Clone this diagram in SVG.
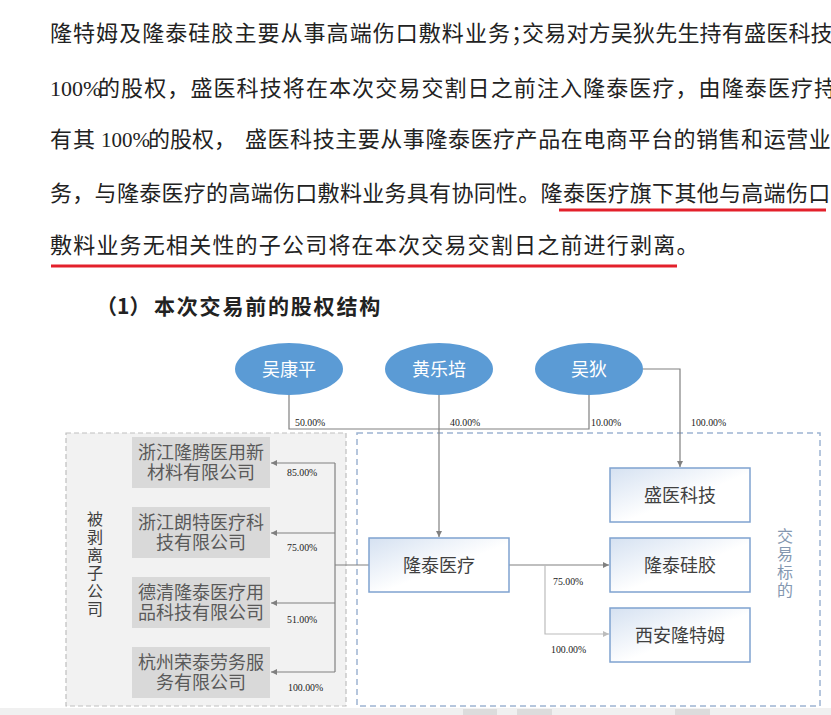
<svg xmlns="http://www.w3.org/2000/svg" width="831" height="715" viewBox="0 0 831 715">
  <defs>
    <style>
      .body { font-family: "Noto Sans CJK SC", "Noto Sans", sans-serif; font-size: 22px; fill: #222; }
      .head { font-family: "Noto Sans CJK SC", "Noto Sans", sans-serif; font-size: 21px; font-weight: bold; fill: #222; }
      .ul { stroke: #e3202b; stroke-width: 2.8; fill: none; }
      .person { fill: #5b9bd5; }
      .ptxt { font-family: "Noto Sans CJK SC", sans-serif; font-size: 18px; fill: #ffffff; text-anchor: middle; }
      .sub { fill: #d9d9d9; }
      .subtxt { font-family: "Noto Sans CJK SC", sans-serif; font-size: 18px; fill: #595959; text-anchor: middle; }
      .co { fill: url(#boxgrad); stroke: #7fa2d0; stroke-width: 1.5; }
      .cotxt { font-family: "Noto Sans CJK SC", sans-serif; font-size: 18px; fill: #404040; text-anchor: middle; }
      .pct { font-family: "Liberation Serif", "Times New Roman", serif; font-size: 9.8px; fill: #1a1a1a; }
      .vlab { font-family: "Noto Sans CJK SC", sans-serif; font-size: 16px; writing-mode: tb; letter-spacing: 2px; }
      .ln { stroke: #808080; stroke-width: 1.2; fill: none; }
      .ln2 { stroke: #bcbcbc; stroke-width: 1.2; fill: none; }
    </style>
    <linearGradient id="boxgrad" x1="0" y1="0" x2="1" y2="1">
      <stop offset="0" stop-color="#d5e1f1"/>
      <stop offset="0.55" stop-color="#ffffff"/>
      <stop offset="1" stop-color="#ffffff"/>
    </linearGradient>
    <marker id="arr" viewBox="0 0 10 10" refX="10" refY="5" markerWidth="6" markerHeight="6" orient="auto" markerUnits="userSpaceOnUse">
      <path d="M0,0 L10,5 L0,10 z" fill="#808080"/>
    </marker>
    <marker id="arr2" viewBox="0 0 10 10" refX="10" refY="5" markerWidth="6" markerHeight="6" orient="auto" markerUnits="userSpaceOnUse">
      <path d="M0,0 L10,5 L0,10 z" fill="#bcbcbc"/>
    </marker>
  </defs>

  <rect x="0" y="0" width="831" height="715" fill="#ffffff"/>

  <!-- Body text -->
  <g id="paragraph">
    <text class="body" y="40.5"><tspan x="50" letter-spacing="1.05">隆特姆及隆泰硅胶主要从事高端伤口敷料业务；</tspan><tspan x="522" letter-spacing="0.2">交易对方吴狄先生持有盛医科技</tspan></text>
    <text class="body" y="95.5"><tspan x="50" font-family="Liberation Serif, serif" font-size="22">100%</tspan><tspan x="98" letter-spacing="1.1">的股权，盛医科技将在本次交易交割日之前注入隆泰医疗，由隆泰医疗持</tspan></text>
    <text class="body" y="146.5"><tspan x="50" letter-spacing="1">有其</tspan><tspan x="101" font-family="Liberation Serif, serif" font-size="21">100%</tspan><tspan x="148">的股权，</tspan><tspan x="245" letter-spacing="0.55">盛医科技主要从事隆泰医疗产品在电商平台的销售和运营业</tspan></text>
    <text class="body" x="50" y="201" letter-spacing="0.3">务，与隆泰医疗的高端伤口敷料业务具有协同性。隆泰医疗旗下其他与高端伤口</text>
    <text class="body" x="50" y="252.5" letter-spacing="1.2">敷料业务无相关性的子公司将在本次交易交割日之前进行剥离。</text>
    <line class="ul" x1="559" y1="210" x2="826" y2="210"/>
    <line class="ul" x1="51" y1="266" x2="677" y2="266"/>
    <text class="head" y="314"><tspan x="96">（1）</tspan><tspan x="154" letter-spacing="1.8">本次交易前的股权结构</tspan></text>
  </g>

  <!-- Group containers -->
  <g id="group-divested">
    <rect x="66" y="433" width="280" height="273" fill="#f2f2f2" stroke="#bfbfbf" stroke-width="1.2" stroke-dasharray="5 3"/>
    <text class="vlab" fill="#404040" x="95" y="511">被剥离子公司</text>
  </g>
  <g id="group-target">
    <rect x="357" y="433" width="463" height="273" fill="#ffffff" stroke="#9db4d2" stroke-width="1.5" stroke-dasharray="6 4"/>
    <text class="vlab" fill="#8497b0" x="785" y="528">交易标的</text>
  </g>

  <!-- Connectors -->
  <g id="connectors">
    <path class="ln" d="M289,395 V429 H589 V395"/>
    <path class="ln" d="M439,395 V537" marker-end="url(#arr)"/>
    <path class="ln" d="M643,369 H680 V467" marker-end="url(#arr)"/>
    <path class="ln" d="M509,565 H609" marker-end="url(#arr)"/>
    <path class="ln2" d="M545,565 V634 H609" marker-end="url(#arr2)"/>
    <path class="ln" d="M369,565 H335"/>
    <path class="ln" d="M335,463 V672"/>
    <path class="ln" d="M335,463 H271" marker-end="url(#arr)"/>
    <path class="ln" d="M335,533 H271" marker-end="url(#arr)"/>
    <path class="ln" d="M335,603 H271" marker-end="url(#arr)"/>
    <path class="ln" d="M335,672 H271" marker-end="url(#arr)"/>
    <text class="pct" x="295" y="426">50.00%</text>
    <text class="pct" x="450" y="426">40.00%</text>
    <text class="pct" x="591" y="426">10.00%</text>
    <text class="pct" x="691" y="426">100.00%</text>
    <text class="pct" x="287" y="476">85.00%</text>
    <text class="pct" x="287" y="551">75.00%</text>
    <text class="pct" x="287" y="623">51.00%</text>
    <text class="pct" x="288" y="691">100.00%</text>
    <text class="pct" x="553" y="585">75.00%</text>
    <text class="pct" x="551" y="653">100.00%</text>
  </g>

  <!-- Shareholders -->
  <g id="node-wukangping">
    <ellipse class="person" cx="289" cy="369" rx="54" ry="26"/>
    <text class="ptxt" x="289" y="376">吴康平</text>
  </g>
  <g id="node-huanglepei">
    <ellipse class="person" cx="439" cy="369" rx="54" ry="26"/>
    <text class="ptxt" x="439" y="376">黄乐培</text>
  </g>
  <g id="node-wudi">
    <ellipse class="person" cx="589" cy="369" rx="54" ry="26"/>
    <text class="ptxt" x="589" y="376">吴狄</text>
  </g>

  <!-- Divested subsidiaries -->
  <g id="node-longteng">
    <rect class="sub" x="132" y="437" width="138" height="51"/>
    <text class="subtxt"><tspan x="201" y="459">浙江隆腾医用新</tspan><tspan x="201" y="479">材料有限公司</tspan></text>
  </g>
  <g id="node-langte">
    <rect class="sub" x="132" y="507" width="138" height="51"/>
    <text class="subtxt"><tspan x="201" y="529">浙江朗特医疗科</tspan><tspan x="201" y="549">技有限公司</tspan></text>
  </g>
  <g id="node-deqing">
    <rect class="sub" x="132" y="577" width="138" height="51"/>
    <text class="subtxt"><tspan x="201" y="599">德清隆泰医疗用</tspan><tspan x="201" y="619">品科技有限公司</tspan></text>
  </g>
  <g id="node-rongtai">
    <rect class="sub" x="132" y="647" width="138" height="51"/>
    <text class="subtxt"><tspan x="201" y="669">杭州荣泰劳务服</tspan><tspan x="201" y="689">务有限公司</tspan></text>
  </g>

  <!-- Companies -->
  <g id="node-longtai-medical">
    <rect class="co" x="369" y="538" width="140" height="54"/>
    <text class="cotxt" x="439" y="572">隆泰医疗</text>
  </g>
  <g id="node-shengyi">
    <rect class="co" x="610" y="468" width="140" height="54"/>
    <text class="cotxt" x="680" y="502">盛医科技</text>
  </g>
  <g id="node-longtai-silicone">
    <rect class="co" x="610" y="538" width="140" height="54"/>
    <text class="cotxt" x="680" y="572">隆泰硅胶</text>
  </g>
  <g id="node-xian">
    <rect class="co" x="610" y="608" width="140" height="54"/>
    <text class="cotxt" x="680" y="642">西安隆特姆</text>
  </g>

  <!-- bottom page strip -->
  <rect x="0" y="708" width="831" height="7" fill="#f0f0f0"/>
  <rect x="463" y="709" width="34" height="6" fill="#dcdcdc"/>
  <rect x="517" y="709" width="35" height="6" fill="#dcdcdc"/>
  <rect x="675" y="709" width="35" height="6" fill="#dcdcdc"/>
</svg>
